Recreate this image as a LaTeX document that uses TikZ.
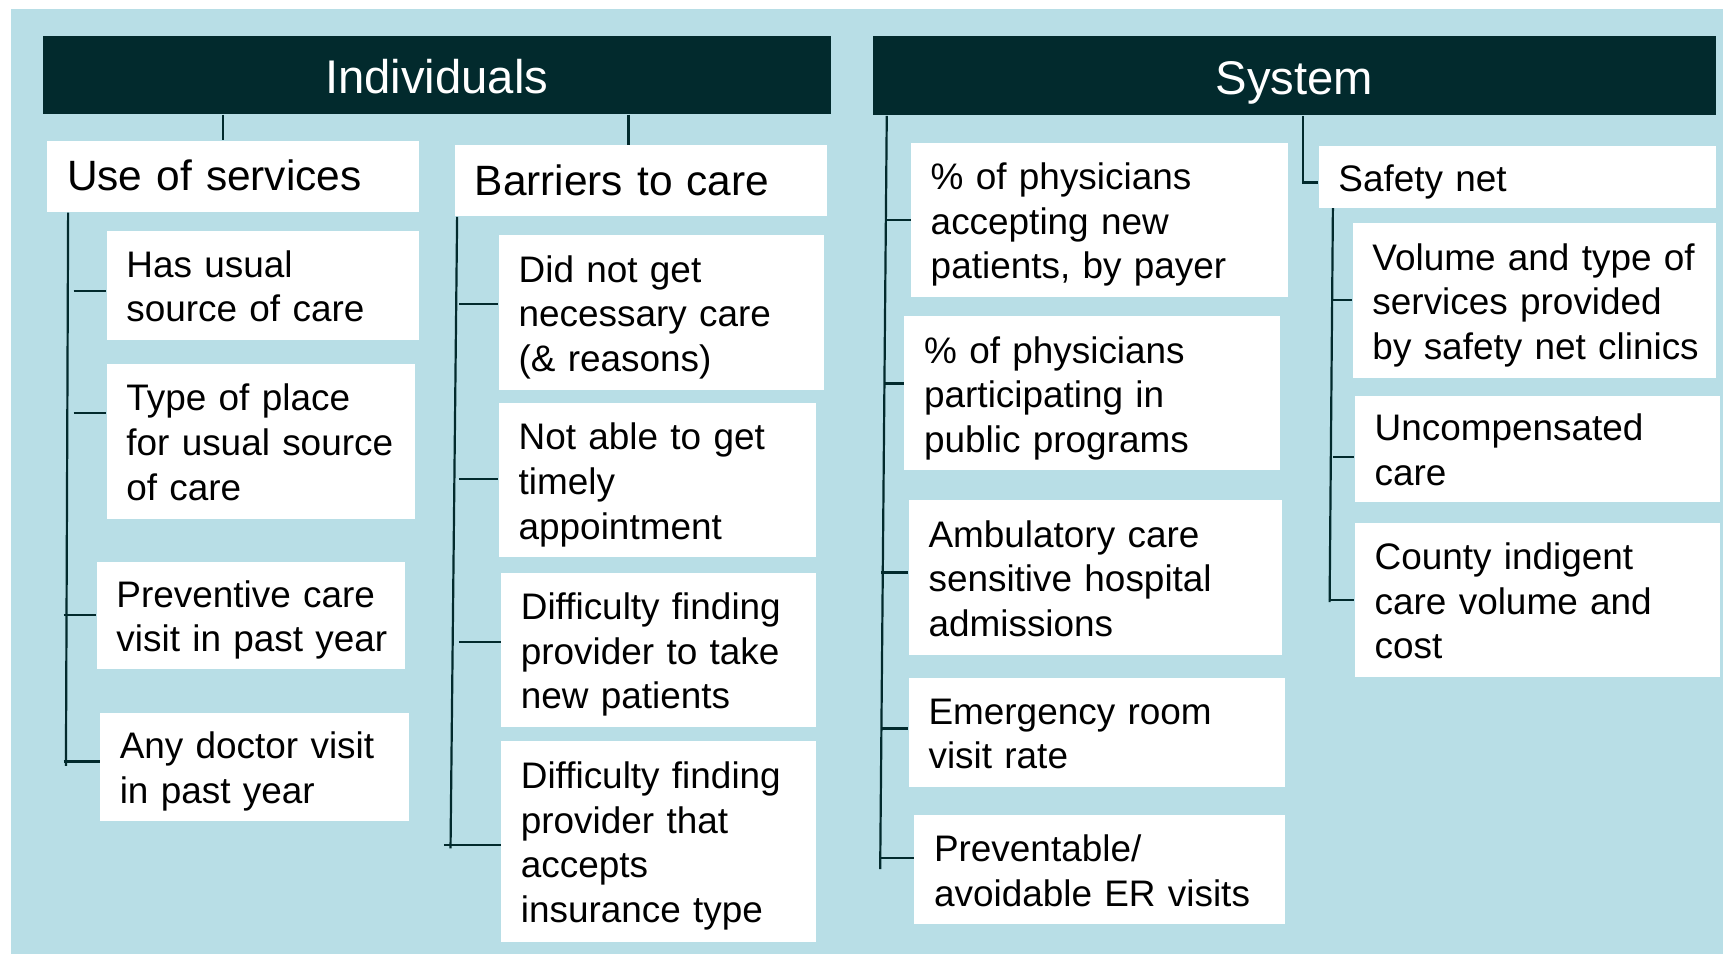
\documentclass[tikz,border=0pt]{standalone}
\usepackage{fontspec}
\setmainfont{Liberation Sans}
\definecolor{bgblue}{RGB}{184,222,230}
\definecolor{darkteal}{RGB}{2,42,45}
\tikzset{
  head/.style={fill=darkteal, text=white, inner sep=0pt, text height=17pt, text depth=0pt, font=\fontsize{21.5}{25}\selectfont},
  box/.style={fill=white, inner xsep=9pt, inner ysep=0pt, align=left, font=\fontsize{16.8}{20.3}\selectfont},
  subbox/.style={box, font=\fontsize{19.3}{23}\selectfont},
  conn/.style={draw=darkteal, line width=1pt}
}
% style, name, position, width (pt), height (pt), number of lines, text
\newcommand\bx[7]{%
  \pgfmathsetmacro\bxh{#5/2-(#6-1)*10.15+6.5}%
  \pgfmathsetmacro\bxd{#5-\bxh}%
  \node[#1, minimum width=#4pt, text width=#4pt-18pt, text height=\bxh pt, text depth=\bxd pt] (#2) at (#3)
    {\begin{tabular}[t]{@{}l@{}}#7\end{tabular}};}
\begin{document}
\begin{tikzpicture}[x=0.5pt, y=-0.5pt]
\useasboundingbox (0,0) rectangle (1568,868);
\fill[bgblue] (10,8) rectangle (1568,868);

% headers
\node[head, minimum width=358.5pt, minimum height=35.5pt] (ind) at (397.5,68.5) {Individuals};
\node[head, minimum width=384pt, minimum height=36pt] (sys) at (1178,69) {System};

% Individuals
\bx{subbox}{uos}{212,160.5}{169}{32.5}{1}{Use of services}
\bx{subbox}{btc}{583.5,164.5}{169.5}{32.5}{1}{Barriers to care}
\bx{box}{hus}{239,259.5}{142}{49.5}{2}{Has usual\\source of care}
\bx{box}{tp}{237.5,401.5}{140.5}{70.5}{3}{Type of place\\for usual source\\of care}
\bx{box}{pv}{228.5,560}{140.5}{49}{2}{Preventive care\\visit in past year}
\bx{box}{ad}{231.5,698}{140.5}{49}{2}{Any doctor visit\\in past year}
\bx{box}{dn}{602,284.5}{148}{70.5}{3}{Did not get\\necessary care\\(\& reasons)}
\bx{box}{na}{598.5,437}{144.5}{70}{3}{Not able to get\\timely\\appointment}
\bx{box}{dp}{599.5,591.5}{143.5}{70.5}{3}{Difficulty finding\\provider to take\\new patients}
\bx{box}{di}{599.5,765.5}{143.5}{91.5}{4}{Difficulty finding\\provider that\\accepts\\insurance type}

% System
\bx{box}{pa}{1000.5,200}{171.5}{70}{3}{\% of physicians\\accepting new\\patients, by payer}
\bx{box}{pp}{994,358}{171}{70}{3}{\% of physicians\\participating in\\public programs}
\bx{box}{am}{997,525.5}{170}{70.5}{3}{Ambulatory care\\sensitive hospital\\admissions}
\bx{box}{er}{998,666.5}{171}{49.5}{2}{Emergency room\\visit rate}
\bx{box}{pr}{1000.5,791.5}{168.5}{49.5}{2}{Preventable/\\avoidable ER visits}
\bx{box}{sn}{1381,161}{181}{28}{1}{Safety net}
\bx{box}{vt}{1396.5,273.5}{165.5}{70.5}{3}{Volume and type of\\services provided\\by safety net clinics}
\bx{box}{uc}{1399,408.5}{166}{48.5}{2}{Uncompensated\\care}
\bx{box}{ci}{1399,546}{166}{70}{3}{County indigent\\care volume and\\cost}

% connectors: headers to sub-headers
\draw[conn] (ind.south -| 203,0) -- (uos.north -| 203,0);
\draw[conn] (ind.south -| 572,0) -- (btc.north -| 572,0);
\draw[conn] (sys.south -| 1186,0) |- (sn.west |- 0,166);

% Use of services tree
\draw[conn] (uos.south -| 62,0) -- (60,697);
\draw[conn] (67,265) -- (hus.west |- 0,265);
\draw[conn] (67,376) -- (tp.west |- 0,376);
\draw[conn] (58,560) -- (pv.west |- 0,560);
\draw[conn] (58,693) -- (ad.west |- 0,693);

% Barriers tree
\draw[conn] (btc.south -| 416,0) -- (410,772);
\draw[conn] (418,277) -- (dn.west |- 0,277);
\draw[conn] (418,436) -- (na.west |- 0,436);
\draw[conn] (418,584) -- (dp.west |- 0,584);
\draw[conn] (404,769) -- (di.west |- 0,769);

% System tree
\draw[conn] (sys.south -| 807,0) -- (801,791);
\draw[conn] (807,200) -- (pa.west |- 0,200);
\draw[conn] (805,349) -- (pp.west |- 0,349);
\draw[conn] (802,521) -- (am.west |- 0,521);
\draw[conn] (802,663) -- (er.west |- 0,663);
\draw[conn] (800,781) -- (pr.west |- 0,781);

% Safety net tree
\draw[conn] (sn.south -| 1213,0) -- (1210,548);
\draw[conn] (1213,273) -- (vt.west |- 0,273);
\draw[conn] (1213,416) -- (uc.west |- 0,416);
\draw[conn] (1209,546) -- (ci.west |- 0,546);
\end{tikzpicture}
\end{document}
